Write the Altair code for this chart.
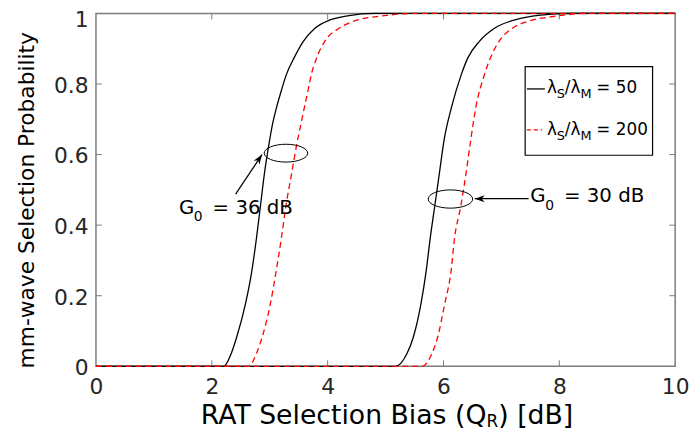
import altair as alt
import pandas as pd

# ---------------- data ----------------
# G0 = 36 dB, lambda_S/lambda_M = 50 (black solid)
x_g36_50 = [0, 2.21, 2.32, 2.43, 2.58, 2.69, 2.77, 2.84, 2.91, 2.98, 3.05, 3.12, 3.20, 3.29, 3.42, 3.58, 3.78, 4.03, 4.37, 4.8, 10]
y_g36_50 = [0, 0, 0.03, 0.083, 0.176, 0.269, 0.362, 0.455, 0.548, 0.623, 0.688, 0.735, 0.781, 0.828, 0.874, 0.921, 0.958, 0.981, 0.994, 1, 1]
# G0 = 36 dB, lambda_S/lambda_M = 200 (red dashed)
x_g36_200 = [0, 2.64, 2.77, 2.87, 3.01, 3.11, 3.20, 3.28, 3.38, 3.46, 3.54, 3.66, 3.72, 3.81, 3.95, 4.20, 4.43, 4.95, 5.5, 10]
y_g36_200 = [0, 0, 0.036, 0.083, 0.176, 0.269, 0.362, 0.455, 0.548, 0.623, 0.688, 0.781, 0.828, 0.874, 0.921, 0.958, 0.977, 0.993, 1, 1]
# G0 = 30 dB, lambda_S/lambda_M = 50 (black solid)
x_g30_50 = [0, 5.17, 5.37, 5.48, 5.61, 5.70, 5.77, 5.85, 5.93, 6.01, 6.14, 6.31, 6.42, 6.62, 6.88, 7.22, 7.67, 8.2, 10]
y_g30_50 = [0, 0, 0.036, 0.083, 0.176, 0.269, 0.362, 0.455, 0.548, 0.641, 0.735, 0.828, 0.874, 0.921, 0.958, 0.981, 0.995, 1, 1]
# G0 = 30 dB, lambda_S/lambda_M = 200 (red dashed)
x_g30_200 = [0, 5.63, 5.80, 5.90, 6.02, 6.13, 6.19, 6.30, 6.39, 6.47, 6.56, 6.71, 6.81, 6.96, 7.19, 7.45, 7.93, 8.5, 10]
y_g30_200 = [0, 0, 0.036, 0.083, 0.176, 0.269, 0.362, 0.455, 0.548, 0.641, 0.735, 0.828, 0.874, 0.921, 0.958, 0.977, 0.992, 1, 1]

x_ticks = [0, 2, 4, 6, 8, 10]
y_ticks = [0, 0.2, 0.4, 0.6, 0.8, 1]

# ---------------- layout / style ----------------
FONT = "DejaVu Sans"
W, H = 586, 357
GRAY = "#7c7c7c"
TICKC = "#262626"

rows = []
for name, col, xs, ys in [
    ("g36_50", "black", x_g36_50, y_g36_50),
    ("g36_200", "red", x_g36_200, y_g36_200),
    ("g30_50", "black", x_g30_50, y_g30_50),
    ("g30_200", "red", x_g30_200, y_g30_200),
]:
    for a, b in zip(xs, ys):
        rows.append({"series": name, "col": col, "x": a, "y": b})
curves = pd.DataFrame(rows)

xscale = alt.Scale(domain=[0, 10], nice=False, zero=False)
yscale = alt.Scale(domain=[0, 1], nice=False, zero=False)
xaxis = alt.Axis(values=x_ticks, title=None, grid=False, domain=False, ticks=False, tickSize=0,
                 labelPadding=11, labelFlush=False, labelOverlap=False, format="d", labelFontSize=22)
yaxis = alt.Axis(values=y_ticks, title=None, grid=False, domain=False, ticks=False, tickSize=0,
                 labelPadding=8, labelFlush=False, labelOverlap=False, format="~g", labelFontSize=22,
                 labelOffset={"condition": {"test": "datum.value == 1", "value": 6}, "value": 1.5})


def X(f):
    return alt.X(f, type="quantitative", scale=xscale, axis=xaxis)


def Y(f):
    return alt.Y(f, type="quantitative", scale=yscale, axis=yaxis)


def txt(x, y, s, size, dx=0, dy=0):
    df = pd.DataFrame({"x": [x], "y": [y], "t": [s]})
    return alt.Chart(df).mark_text(align="left", baseline="alphabetic", font=FONT, fontSize=size,
                                   dx=dx, dy=dy, color="black").encode(x=X("x"), y=Y("y"), text="t:N")


def ptxt(px, py, s, size, align="left", angle=0):
    df = pd.DataFrame({"t": [s]})
    return alt.Chart(df).mark_text(align=align, baseline="alphabetic" if angle == 0 else "middle",
                                   font=FONT, fontSize=size, angle=angle, color="black").encode(
        x=alt.value(px), y=alt.value(py), text="t:N")


tx = pd.DataFrame({"t": x_ticks[1:-1]})
ty = pd.DataFrame({"t": y_ticks[1:-1]})
ticks = [
    alt.Chart(tx).mark_rule(color=GRAY, strokeWidth=1).encode(x=X("t"), y=alt.value(H), y2=alt.value(H - 6)),
    alt.Chart(tx).mark_rule(color=GRAY, strokeWidth=1).encode(x=X("t"), y=alt.value(0), y2=alt.value(6)),
    alt.Chart(ty).mark_rule(color=GRAY, strokeWidth=1).encode(y=Y("t"), x=alt.value(0), x2=alt.value(6)),
    alt.Chart(ty).mark_rule(color=GRAY, strokeWidth=1).encode(y=Y("t"), x=alt.value(W - 6), x2=alt.value(W)),
]

black = alt.Chart(curves[curves.col == "black"]).mark_line(
    color="black", strokeWidth=1.3, interpolate="monotone").encode(x=X("x"), y=Y("y"), detail="series:N")
red = alt.Chart(curves[curves.col == "red"]).mark_line(
    color="#ff0000", strokeWidth=1.3, strokeDash=[6, 4], interpolate="monotone").encode(
    x=X("x"), y=Y("y"), detail="series:N")

# annotations: ellipses, arrows
ell = pd.DataFrame({"x": [3.28, 6.12], "y": [0.604, 0.474], "s": [1936, 2025]})
ellipses = alt.Chart(ell).mark_point(
    shape="M -1 0 A 1 0.41 0 1 0 1 0 A 1 0.41 0 1 0 -1 0", filled=False, color="black",
    strokeWidth=1, opacity=1).encode(x=X("x"), y=Y("y"), size=alt.Size("s:Q", scale=None))

arr = pd.DataFrame({"x": [2.411, 7.47], "y": [0.488, 0.475], "x2": [2.867, 6.54], "y2": [0.600, 0.475],
                    "a": [303.7, 180]})
arrow_lines = alt.Chart(arr).mark_rule(color="black", strokeWidth=1.2).encode(
    x=X("x"), y=Y("y"), x2="x2:Q", y2="y2:Q")
arrow_heads = alt.Chart(arr).mark_point(
    shape="M 0 0 L -2 -0.7 L -1.4 0 L -2 0.7 Z", filled=True, color="black", opacity=1, size=100).encode(
    x=X("x2"), y=Y("y2"), angle=alt.Angle("a:Q", scale=None))

# legend
leg = pd.DataFrame({"x": [7.41], "x2": [9.61], "y": [0.598], "y2": [0.849]})
legend_box = alt.Chart(leg).mark_rect(fill="white", stroke="black", strokeWidth=1.2).encode(
    x=X("x"), x2="x2:Q", y=Y("y"), y2="y2:Q")
ls1 = pd.DataFrame({"x": [7.44], "x2": [7.75], "y": [0.786]})
ls2 = pd.DataFrame({"x": [7.44], "x2": [7.70], "y": [0.670]})
leg_line1 = alt.Chart(ls1).mark_rule(color="black", strokeWidth=1.3).encode(x=X("x"), x2="x2:Q", y=Y("y"))
leg_line2 = alt.Chart(ls2).mark_rule(color="#ff0000", strokeWidth=1.3, strokeDash=[4, 3]).encode(
    x=X("x"), x2="x2:Q", y=Y("y"))

texts = []
for (ax, ay, val) in [(7.786, 0.7746, "= 50"), (7.786, 0.6555, "= 200")]:
    texts += [
        txt(ax, ay, "λ", 17),
        txt(ax, ay, "S", 13, dx=10, dy=5),
        txt(ax, ay, "/λ", 17, dx=18),
        txt(ax, ay, "M", 13, dx=34, dy=5),
        txt(ax, ay, val, 17, dx=50),
    ]
for (ax, ay, val) in [(1.433, 0.433, "= 36 dB"), (7.50, 0.4645, "= 30 dB")]:
    texts += [
        txt(ax, ay, "G", 20),
        txt(ax, ay, "0", 14, dx=15, dy=8),
        txt(ax, ay, val, 20, dx=34),
    ]

# axis titles
texts += [
    ptxt(395, 415, "RAT Selection Bias (Q", 27, align="right"),
    ptxt(395, 418, "R", 17),
    ptxt(407, 415, ") [dB]", 27),
    ptxt(-70, 189, "mm-wave Selection Probability", 22, align="center", angle=270),
]

chart = alt.layer(
    *ticks, black, red, ellipses, arrow_lines, arrow_heads, legend_box, leg_line1, leg_line2, *texts
).properties(
    width=W, height=H,
    padding={"left": 89, "top": 3, "right": 15, "bottom": 65},
    autosize=alt.AutoSizeParams(type="none"),
).configure_view(
    stroke=GRAY, strokeWidth=1.5
).configure_axis(
    labelFont=FONT, labelColor=TICKC
)

chart.save("out.html", embed_options={"renderer": "svg", "actions": False})
